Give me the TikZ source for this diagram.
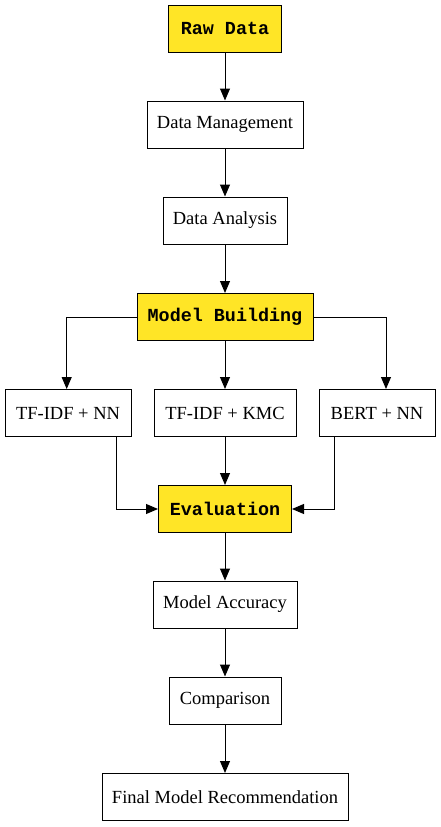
\documentclass[tikz,border=0pt]{standalone}
\usepackage{fontspec}
\setmainfont{Liberation Serif}
\newfontfamily\monob{Liberation Mono}
\usetikzlibrary{arrows.meta}
\definecolor{boxyellow}{RGB}{255,229,38}
\tikzset{
  box/.style={draw=black, line width=1pt, fill=white, minimum height=47pt, inner sep=0pt, font=\fontsize{18.5}{20}\selectfont},
  keybox/.style={box, fill=boxyellow, font=\monob\bfseries\fontsize{18.4}{20}\selectfont},
  arr/.style={-{Triangle[length=12pt,width=10pt]}, line width=1pt},
}
\begin{document}
\begin{tikzpicture}[x=1pt,y=1pt]
\useasboundingbox (0,0) rectangle (440,-827);
\node[keybox, minimum width=113pt] (raw) at (225,-28.5) {Raw Data};
\node[box, minimum width=156pt] (dm) at (225,-124.5) {Data Management};
\node[box, minimum width=124pt] (da) at (225,-220.5) {Data Analysis};
\node[keybox, minimum width=176pt] (mb) at (225,-317) {Model Building};
\node[box, minimum width=126pt] (nn) at (68,-413) {TF-IDF + NN};
\node[box, minimum width=142pt] (kmc) at (225,-413) {TF-IDF + KMC};
\node[box, minimum width=116pt] (bert) at (377,-413) {BERT + NN};
\node[keybox, minimum width=133pt] (ev) at (225,-509) {Evaluation};
\node[box, minimum width=144pt] (acc) at (225,-604.5) {Model Accuracy};
\node[box, minimum width=112pt] (cmp) at (225,-700.5) {Comparison};
\node[box, minimum width=246pt] (fin) at (225,-797) {Final Model Recommendation};

\draw[arr] (raw) -- (dm);
\draw[arr] (dm) -- (da);
\draw[arr] (da) -- (mb);
\draw[arr] (mb.west) -| ([xshift=-1.3pt]nn.north);
\draw[arr] (mb) -- (kmc);
\draw[arr] (mb.east) -| ([xshift=9pt]bert.north);
\draw[arr] ([xshift=48pt]nn.south) |- (ev.west);
\draw[arr] (kmc) -- (ev);
\draw[arr] ([xshift=-43pt]bert.south) |- (ev.east);
\draw[arr] (ev) -- (acc);
\draw[arr] (acc) -- (cmp);
\draw[arr] (cmp) -- (fin);
\end{tikzpicture}
\end{document}
